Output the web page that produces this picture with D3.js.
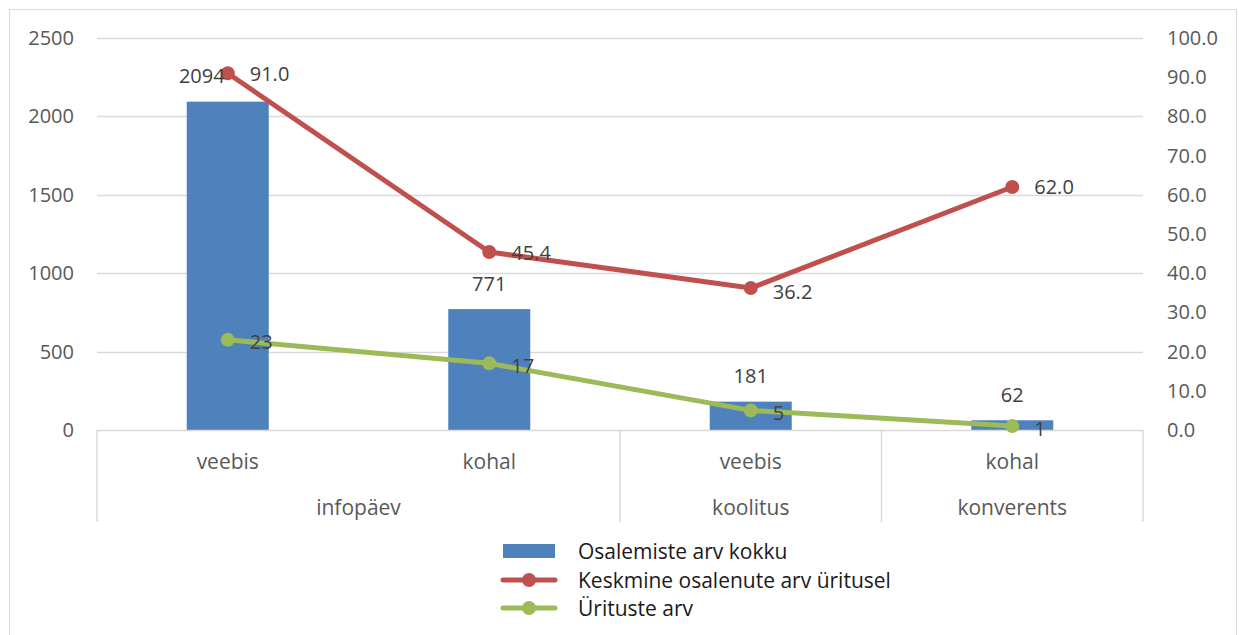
<!DOCTYPE html>
<html><head><meta charset="utf-8">
<script src="https://cdn.jsdelivr.net/npm/d3@7"></script>
<style>body{margin:0;background:#fff}svg{display:block}text{font-family:"Open Sans",sans-serif}</style>
</head><body><svg id="c" width="1239" height="635"></svg>
<script>
const groups = ["infopäev","infopäev","koolitus","konverents"];
const subcats = ["veebis","kohal","veebis","kohal"];
const groupNames = ["infopäev","koolitus","konverents"];
const osalemised = [2094, 771, 181, 62];
const keskmine = [91.0, 45.4, 36.2, 62.0];
const uritused = [23, 17, 5, 1];
const leftTicks = [0,500,1000,1500,2000,2500];
const rightTicks = [0,10,20,30,40,50,60,70,80,90,100];
const seriesNames = ["Osalemiste arv kokku","Keskmine osalenute arv üritusel","Ürituste arv"];

const svg = d3.select("#c");
const L=97, R=1143, T=38, B=430;
const C={bar:"#4F81BD",red:"#C0504D",green:"#9BBB59",grid:"#D9D9D9",axisText:"#595959",label:"#404040"};
const NUM="20px", TXT="21px";
const idx = d3.range(subcats.length);
const x = d3.scaleBand().domain(idx).range([L,R]).paddingInner(0).paddingOuter(0);
const yL = d3.scaleLinear().domain([0,2500]).range([B,T]);
const yR = d3.scaleLinear().domain([0,100]).range([B,T]);

svg.append("rect").attr("x",9.5).attr("y",9.5).attr("width",1227).attr("height",640).attr("fill","none").attr("stroke","#D9D9D9");

// gridlines
svg.append("g").selectAll("line").data(leftTicks.filter(d=>d>0)).join("line")
 .attr("x1",L).attr("x2",R).attr("y1",d=>Math.round(yL(d))+0.5).attr("y2",d=>Math.round(yL(d))+0.5)
 .attr("stroke",C.grid).attr("stroke-width",1.5);

// left axis
const gl = svg.append("g").attr("transform",`translate(${L},0)`)
 .call(d3.axisLeft(yL).tickValues(leftTicks).tickSize(0).tickPadding(23).tickFormat(d3.format("d")));
gl.select(".domain").remove();
gl.selectAll("text").attr("fill",C.axisText).style("font-size",NUM);

// right axis
const gr = svg.append("g").attr("transform",`translate(${R},0)`)
 .call(d3.axisRight(yR).tickValues(rightTicks).tickSize(0).tickPadding(24).tickFormat(d3.format(".1f")));
gr.select(".domain").remove();
gr.selectAll("text").attr("fill",C.axisText).style("font-size",NUM);

// bars
const bw = 82;
svg.append("g").selectAll("rect").data(idx).join("rect")
 .attr("x",i=>x(i)+x.bandwidth()/2-bw/2).attr("width",bw)
 .attr("y",i=>yL(osalemised[i])).attr("height",i=>B-yL(osalemised[i]))
 .attr("fill",C.bar);

// category axis
const ax = svg.append("g");
ax.append("line").attr("x1",L).attr("x2",R).attr("y1",B+0.5).attr("y2",B+0.5).attr("stroke",C.grid).attr("stroke-width",1.5);
const bounds=[0];
idx.forEach(i=>{ if(i>0 && groups[i]!==groups[i-1]) bounds.push(i); });
bounds.push(idx.length);
ax.selectAll("line.b").data(bounds).join("line").attr("class","b")
 .attr("x1",b=>b<idx.length?x(b):R).attr("x2",b=>b<idx.length?x(b):R)
 .attr("y1",B).attr("y2",522).attr("stroke",C.grid).attr("stroke-width",1.5);
ax.selectAll("text.s").data(idx).join("text").attr("class","s")
 .attr("x",i=>x(i)+x.bandwidth()/2).attr("y",461).attr("text-anchor","middle").attr("dominant-baseline","central")
 .attr("fill",C.axisText).style("font-size",TXT).text(i=>subcats[i]);
ax.selectAll("text.g").data(groupNames).join("text").attr("class","g")
 .attr("x",g=>{const ii=idx.filter(i=>groups[i]===g);return (x(ii[0])+x(ii[ii.length-1])+x.bandwidth())/2;})
 .attr("y",507).attr("text-anchor","middle").attr("dominant-baseline","central")
 .attr("fill",C.axisText).style("font-size",TXT).text(g=>g);

// lines
const cx = i=>x(i)+x.bandwidth()/2;
function drawLine(vals,color){
  svg.append("path").datum(idx).attr("fill","none").attr("stroke",color).attr("stroke-width",5).attr("stroke-linejoin","round")
   .attr("d",d3.line().x(cx).y(i=>yR(vals[i])));
  svg.append("g").selectAll("circle").data(idx).join("circle").attr("cx",cx).attr("cy",i=>yR(vals[i])).attr("r",7).attr("fill",color);
}
drawLine(keskmine,C.red);
drawLine(uritused,C.green);

// bar labels
svg.append("g").selectAll("text").data(idx).join("text")
 .attr("x",i=>cx(i)+(i===0?-26:0)).attr("y",i=>yL(osalemised[i])-26)
 .attr("text-anchor","middle").attr("dominant-baseline","central").attr("fill",C.label).style("font-size",NUM)
 .text(i=>osalemised[i]);
// red labels
const redDy=[0,0,3,0];
svg.append("g").selectAll("text").data(idx).join("text")
 .attr("x",i=>cx(i)+22).attr("y",i=>yR(keskmine[i])+redDy[i])
 .attr("dominant-baseline","central").attr("fill",C.label).style("font-size",NUM)
 .text(i=>d3.format(".1f")(keskmine[i]));
// green labels
svg.append("g").selectAll("text").data(idx).join("text")
 .attr("x",i=>cx(i)+22).attr("y",i=>yR(uritused[i])+2)
 .attr("dominant-baseline","central").attr("fill",C.label).style("font-size",NUM)
 .text(i=>uritused[i]);

// legend
const lg = svg.append("g");
const ly=[551,580,608];
lg.append("rect").attr("x",503).attr("y",544).attr("width",52).attr("height",14).attr("fill",C.bar);
[[C.red,1],[C.green,2]].forEach(([c,k])=>{
  lg.append("line").attr("x1",503).attr("x2",555).attr("y1",ly[k]).attr("y2",ly[k]).attr("stroke",c).attr("stroke-width",5).attr("stroke-linecap","round");
  lg.append("circle").attr("cx",529).attr("cy",ly[k]).attr("r",7).attr("fill",c);
});
lg.selectAll("text").data(seriesNames).join("text").attr("x",578).attr("y",(d,i)=>ly[i])
 .attr("dominant-baseline","central").attr("fill","#1a1a1a").style("font-size",TXT).text(d=>d);
</script></body></html>
